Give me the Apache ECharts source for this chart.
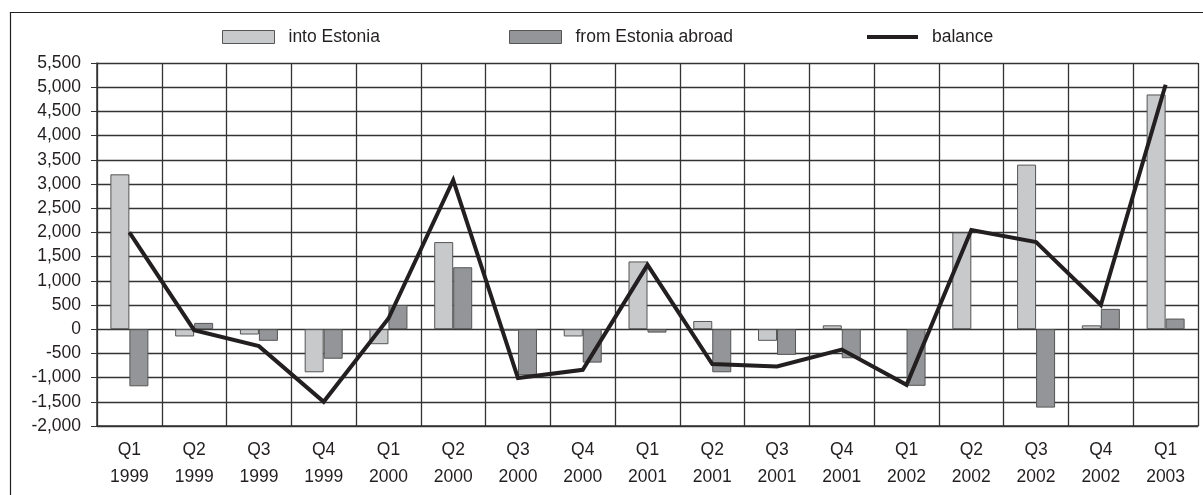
<!DOCTYPE html>
<html>
<head>
<meta charset="utf-8">
<style>
  html, body { margin: 0; padding: 0; background: #ffffff; }
  #chart { width: 1203px; height: 495px; }
</style>
<script src="https://cdn.jsdelivr.net/npm/echarts@6/dist/echarts.min.js"></script>
</head>
<body>
<div id="chart"></div>
<script>
// Quarterly capital flows, Estonia, Q1 1999 – Q1 2003
const quarters = ['Q1', 'Q2', 'Q3', 'Q4', 'Q1', 'Q2', 'Q3', 'Q4', 'Q1', 'Q2', 'Q3', 'Q4', 'Q1', 'Q2', 'Q3', 'Q4', 'Q1'];
const years = ['1999', '1999', '1999', '1999', '2000', '2000', '2000', '2000', '2001', '2001', '2001', '2001', '2002', '2002', '2002', '2002', '2003'];
const intoEstonia = [3200, -150, -110, -890, -310, 1800, -30, -150, 1400, 170, -240, 80, null, 2000, 3400, 80, 4850];
const fromEstonia = [-1180, 130, -240, -610, 500, 1280, -950, -690, -70, -890, -530, -600, -1170, null, -1620, 420, 220];
const balance = [2000, -20, -350, -1500, 220, 3080, -1010, -840, 1330, -720, -770, -420, -1150, 2050, 1800, 500, 5050];
const yTicks = { min: -2000, max: 5500, step: 500 };

const categories = quarters.map((q, i) => q + '\n' + years[i]);

const textColor = '#231f20';
const gridColor = '#333333';
const fontFamily = '"Liberation Sans", Arial, sans-serif';
const fontSize = 17.5;

const chart = echarts.init(document.getElementById('chart'), null, { renderer: 'canvas' });

const legendBase = {
  top: 23,
  itemGap: 0,
  textStyle: { color: textColor, fontSize: fontSize, fontFamily: fontFamily, padding: [0, 0, 0, 9] },
  selectedMode: false
};

chart.setOption({
  animation: false,
  backgroundColor: '#ffffff',
  graphic: [{
    type: 'rect',
    shape: { x: 10.5, y: 12.5, width: 1300, height: 600 },
    style: { fill: 'none', stroke: '#231f20', lineWidth: 1.2 },
    silent: true,
    z: 0
  }],
  legend: [
    Object.assign({}, legendBase, {
      left: 217, itemWidth: 52, itemHeight: 13, icon: 'rect',
      data: [{ name: 'into Estonia', itemStyle: { color: '#c8c9cb', borderColor: '#555555', borderWidth: 1 } }]
    }),
    Object.assign({}, legendBase, {
      left: 504, itemWidth: 52, itemHeight: 13, icon: 'rect',
      data: [{ name: 'from Estonia abroad', itemStyle: { color: '#939598', borderColor: '#555555', borderWidth: 1 } }]
    }),
    Object.assign({}, legendBase, {
      left: 862, itemWidth: 51, itemHeight: 4, icon: 'rect',
      data: [{ name: 'balance', itemStyle: { color: '#231f20' } }]
    })
  ],
  grid: { left: 97, right: 5, top: 63, bottom: 69, containLabel: false },
  xAxis: {
    type: 'category',
    data: categories,
    boundaryGap: true,
    axisLine: { onZero: false, lineStyle: { color: gridColor, width: 1.5 } },
    axisTick: { show: false },
    axisLabel: {
      color: textColor, fontSize: fontSize, fontFamily: fontFamily,
      lineHeight: 27, margin: 11, interval: 0
    },
    splitLine: { show: true, interval: 0, lineStyle: { color: gridColor, width: 1.3 } }
  },
  yAxis: {
    type: 'value',
    min: yTicks.min,
    max: yTicks.max,
    interval: yTicks.step,
    axisLine: { show: true, lineStyle: { color: gridColor, width: 1.5 } },
    axisTick: { show: true, length: 6, lineStyle: { color: gridColor } },
    axisLabel: {
      color: textColor, fontSize: fontSize, fontFamily: fontFamily, margin: 16,
      formatter: v => v.toLocaleString('en-US')
    },
    splitLine: { show: true, lineStyle: { color: gridColor, width: 1.3 } }
  },
  series: [
    {
      name: 'into Estonia',
      type: 'bar',
      data: intoEstonia,
      barWidth: 19,
      barGap: '0%',
      itemStyle: { color: '#c8c9cb', borderColor: '#555555', borderWidth: 1 },
      z: 2
    },
    {
      name: 'from Estonia abroad',
      type: 'bar',
      data: fromEstonia,
      barWidth: 19,
      barGap: '0%',
      itemStyle: { color: '#939598', borderColor: '#555555', borderWidth: 1 },
      z: 2
    },
    {
      name: 'balance',
      type: 'line',
      data: balance,
      symbol: 'none',
      lineStyle: { color: '#231f20', width: 4, join: 'miter' },
      itemStyle: { color: '#231f20' },
      z: 3
    }
  ]
});
</script>
</body>
</html>
